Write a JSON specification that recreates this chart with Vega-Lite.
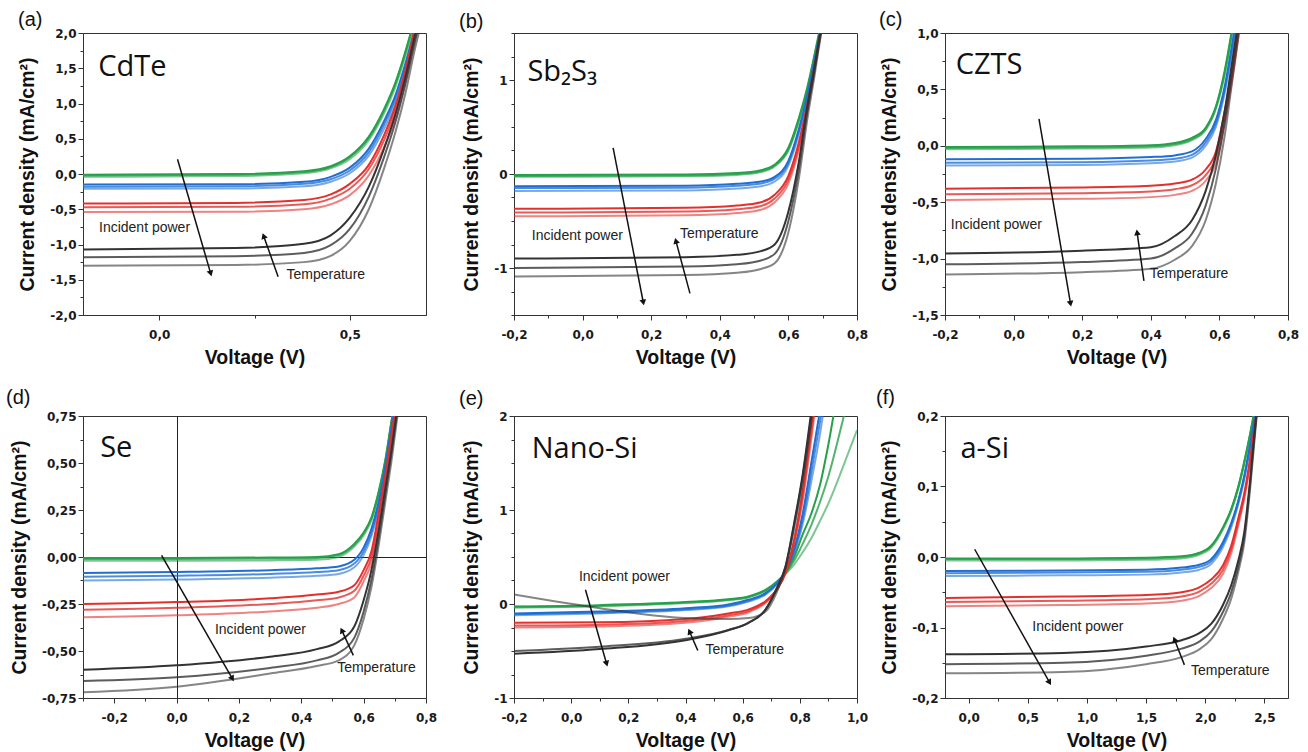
{
"$schema":"https://vega.github.io/schema/vega-lite/v6.json",
"background":"white",
"padding":{"left":5,"top":9,"right":5,"bottom":5},
"config":{
 "locale":{"number":{"decimal":",","thousands":".","grouping":[3],"currency":[""," €"],"minus":"-"}},
 "view":{"stroke":"#333","strokeWidth":1},
 "axis":{"labelFont":"DejaVu Sans","labelFontWeight":"bold","labelFontSize":12,"labelColor":"#1a1a1a","titleFont":"Liberation Sans","titleFontWeight":"bold","titleFontSize":19.5,"titleColor":"#111","domainColor":"#333","tickColor":"#333","grid":false,"labelOverlap":false,"labelFlush":false},
 "axisX":{"labelPadding":9,"titlePadding":8},
 "axisY":{"labelPadding":2,"titlePadding":12}
},
"datasets":{
"curves":[
{"p":"a","s":"g","t":1,"v":-0.2,"j":-0.01},{"p":"a","s":"g","t":1,"v":0.2,"j":0},{"p":"a","s":"g","t":1,"v":0.38,"j":0.04},{"p":"a","s":"g","t":1,"v":0.45,"j":0.11},{"p":"a","s":"g","t":1,"v":0.5,"j":0.25},{"p":"a","s":"g","t":1,"v":0.55,"j":0.53},{"p":"a","s":"g","t":1,"v":0.59,"j":0.92},{"p":"a","s":"g","t":1,"v":0.62,"j":1.3},{"p":"a","s":"g","t":1,"v":0.645,"j":1.72},{"p":"a","s":"g","t":1,"v":0.67,"j":2.2},{"p":"a","s":"g","t":1,"v":0.69,"j":2.6},
{"p":"a","s":"g","t":2,"v":-0.2,"j":-0.02},{"p":"a","s":"g","t":2,"v":0.2,"j":-0.01},{"p":"a","s":"g","t":2,"v":0.38,"j":0.03},{"p":"a","s":"g","t":2,"v":0.45,"j":0.1},{"p":"a","s":"g","t":2,"v":0.5,"j":0.24},{"p":"a","s":"g","t":2,"v":0.55,"j":0.51},{"p":"a","s":"g","t":2,"v":0.59,"j":0.9},{"p":"a","s":"g","t":2,"v":0.62,"j":1.28},{"p":"a","s":"g","t":2,"v":0.645,"j":1.7},{"p":"a","s":"g","t":2,"v":0.67,"j":2.18},{"p":"a","s":"g","t":2,"v":0.69,"j":2.58},
{"p":"a","s":"g","t":3,"v":-0.2,"j":-0.04},{"p":"a","s":"g","t":3,"v":0.2,"j":-0.03},{"p":"a","s":"g","t":3,"v":0.38,"j":0.01},{"p":"a","s":"g","t":3,"v":0.45,"j":0.08},{"p":"a","s":"g","t":3,"v":0.5,"j":0.21},{"p":"a","s":"g","t":3,"v":0.55,"j":0.48},{"p":"a","s":"g","t":3,"v":0.59,"j":0.86},{"p":"a","s":"g","t":3,"v":0.62,"j":1.24},{"p":"a","s":"g","t":3,"v":0.645,"j":1.66},{"p":"a","s":"g","t":3,"v":0.67,"j":2.14},{"p":"a","s":"g","t":3,"v":0.69,"j":2.55},
{"p":"a","s":"b","t":1,"v":-0.2,"j":-0.15},{"p":"a","s":"b","t":1,"v":0.2,"j":-0.145},{"p":"a","s":"b","t":1,"v":0.38,"j":-0.11},{"p":"a","s":"b","t":1,"v":0.45,"j":-0.04},{"p":"a","s":"b","t":1,"v":0.5,"j":0.09},{"p":"a","s":"b","t":1,"v":0.55,"j":0.36},{"p":"a","s":"b","t":1,"v":0.59,"j":0.75},{"p":"a","s":"b","t":1,"v":0.62,"j":1.12},{"p":"a","s":"b","t":1,"v":0.645,"j":1.55},{"p":"a","s":"b","t":1,"v":0.67,"j":2.05},{"p":"a","s":"b","t":1,"v":0.69,"j":2.45},
{"p":"a","s":"b","t":2,"v":-0.2,"j":-0.18},{"p":"a","s":"b","t":2,"v":0.2,"j":-0.175},{"p":"a","s":"b","t":2,"v":0.38,"j":-0.14},{"p":"a","s":"b","t":2,"v":0.45,"j":-0.075},{"p":"a","s":"b","t":2,"v":0.5,"j":0.05},{"p":"a","s":"b","t":2,"v":0.55,"j":0.31},{"p":"a","s":"b","t":2,"v":0.59,"j":0.7},{"p":"a","s":"b","t":2,"v":0.62,"j":1.07},{"p":"a","s":"b","t":2,"v":0.645,"j":1.5},{"p":"a","s":"b","t":2,"v":0.67,"j":2.0},{"p":"a","s":"b","t":2,"v":0.69,"j":2.4},
{"p":"a","s":"b","t":3,"v":-0.2,"j":-0.21},{"p":"a","s":"b","t":3,"v":0.2,"j":-0.205},{"p":"a","s":"b","t":3,"v":0.38,"j":-0.175},{"p":"a","s":"b","t":3,"v":0.45,"j":-0.11},{"p":"a","s":"b","t":3,"v":0.5,"j":0.01},{"p":"a","s":"b","t":3,"v":0.55,"j":0.26},{"p":"a","s":"b","t":3,"v":0.59,"j":0.64},{"p":"a","s":"b","t":3,"v":0.62,"j":1.0},{"p":"a","s":"b","t":3,"v":0.645,"j":1.43},{"p":"a","s":"b","t":3,"v":0.67,"j":1.93},{"p":"a","s":"b","t":3,"v":0.69,"j":2.35},
{"p":"a","s":"r","t":1,"v":-0.2,"j":-0.42},{"p":"a","s":"r","t":1,"v":0.2,"j":-0.41},{"p":"a","s":"r","t":1,"v":0.38,"j":-0.37},{"p":"a","s":"r","t":1,"v":0.45,"j":-0.29},{"p":"a","s":"r","t":1,"v":0.5,"j":-0.14},{"p":"a","s":"r","t":1,"v":0.55,"j":0.13},{"p":"a","s":"r","t":1,"v":0.59,"j":0.55},{"p":"a","s":"r","t":1,"v":0.62,"j":0.97},{"p":"a","s":"r","t":1,"v":0.645,"j":1.45},{"p":"a","s":"r","t":1,"v":0.67,"j":2.05},{"p":"a","s":"r","t":1,"v":0.69,"j":2.5},
{"p":"a","s":"r","t":2,"v":-0.2,"j":-0.47},{"p":"a","s":"r","t":2,"v":0.2,"j":-0.465},{"p":"a","s":"r","t":2,"v":0.38,"j":-0.43},{"p":"a","s":"r","t":2,"v":0.45,"j":-0.35},{"p":"a","s":"r","t":2,"v":0.5,"j":-0.21},{"p":"a","s":"r","t":2,"v":0.55,"j":0.07},{"p":"a","s":"r","t":2,"v":0.59,"j":0.48},{"p":"a","s":"r","t":2,"v":0.62,"j":0.9},{"p":"a","s":"r","t":2,"v":0.645,"j":1.38},{"p":"a","s":"r","t":2,"v":0.67,"j":1.98},{"p":"a","s":"r","t":2,"v":0.69,"j":2.45},
{"p":"a","s":"r","t":3,"v":-0.2,"j":-0.54},{"p":"a","s":"r","t":3,"v":0.2,"j":-0.535},{"p":"a","s":"r","t":3,"v":0.38,"j":-0.5},{"p":"a","s":"r","t":3,"v":0.45,"j":-0.43},{"p":"a","s":"r","t":3,"v":0.5,"j":-0.3},{"p":"a","s":"r","t":3,"v":0.55,"j":-0.02},{"p":"a","s":"r","t":3,"v":0.59,"j":0.38},{"p":"a","s":"r","t":3,"v":0.62,"j":0.8},{"p":"a","s":"r","t":3,"v":0.645,"j":1.28},{"p":"a","s":"r","t":3,"v":0.67,"j":1.88},{"p":"a","s":"r","t":3,"v":0.69,"j":2.35},
{"p":"a","s":"k","t":1,"v":-0.2,"j":-1.07},{"p":"a","s":"k","t":1,"v":0.2,"j":-1.05},{"p":"a","s":"k","t":1,"v":0.38,"j":-0.99},{"p":"a","s":"k","t":1,"v":0.45,"j":-0.87},{"p":"a","s":"k","t":1,"v":0.5,"j":-0.62},{"p":"a","s":"k","t":1,"v":0.55,"j":-0.18},{"p":"a","s":"k","t":1,"v":0.59,"j":0.36},{"p":"a","s":"k","t":1,"v":0.62,"j":0.85},{"p":"a","s":"k","t":1,"v":0.645,"j":1.35},{"p":"a","s":"k","t":1,"v":0.67,"j":1.95},{"p":"a","s":"k","t":1,"v":0.69,"j":2.4},
{"p":"a","s":"k","t":2,"v":-0.2,"j":-1.18},{"p":"a","s":"k","t":2,"v":0.2,"j":-1.165},{"p":"a","s":"k","t":2,"v":0.38,"j":-1.12},{"p":"a","s":"k","t":2,"v":0.45,"j":-1.01},{"p":"a","s":"k","t":2,"v":0.5,"j":-0.78},{"p":"a","s":"k","t":2,"v":0.55,"j":-0.32},{"p":"a","s":"k","t":2,"v":0.59,"j":0.24},{"p":"a","s":"k","t":2,"v":0.62,"j":0.74},{"p":"a","s":"k","t":2,"v":0.645,"j":1.26},{"p":"a","s":"k","t":2,"v":0.67,"j":1.86},{"p":"a","s":"k","t":2,"v":0.69,"j":2.3},
{"p":"a","s":"k","t":3,"v":-0.2,"j":-1.3},{"p":"a","s":"k","t":3,"v":0.2,"j":-1.29},{"p":"a","s":"k","t":3,"v":0.38,"j":-1.25},{"p":"a","s":"k","t":3,"v":0.45,"j":-1.16},{"p":"a","s":"k","t":3,"v":0.5,"j":-0.95},{"p":"a","s":"k","t":3,"v":0.55,"j":-0.5},{"p":"a","s":"k","t":3,"v":0.59,"j":0.08},{"p":"a","s":"k","t":3,"v":0.62,"j":0.6},{"p":"a","s":"k","t":3,"v":0.645,"j":1.12},{"p":"a","s":"k","t":3,"v":0.67,"j":1.75},{"p":"a","s":"k","t":3,"v":0.69,"j":2.2},

{"p":"b","s":"g","t":1,"v":-0.2,"j":-0.01},{"p":"b","s":"g","t":1,"v":0.3,"j":-0.005},{"p":"b","s":"g","t":1,"v":0.45,"j":0.01},{"p":"b","s":"g","t":1,"v":0.52,"j":0.04},{"p":"b","s":"g","t":1,"v":0.56,"j":0.1},{"p":"b","s":"g","t":1,"v":0.6,"j":0.28},{"p":"b","s":"g","t":1,"v":0.63,"j":0.59},{"p":"b","s":"g","t":1,"v":0.655,"j":0.92},{"p":"b","s":"g","t":1,"v":0.675,"j":1.25},{"p":"b","s":"g","t":1,"v":0.695,"j":1.6},{"p":"b","s":"g","t":1,"v":0.72,"j":2.0},
{"p":"b","s":"g","t":2,"v":-0.2,"j":-0.02},{"p":"b","s":"g","t":2,"v":0.3,"j":-0.015},{"p":"b","s":"g","t":2,"v":0.45,"j":0},{"p":"b","s":"g","t":2,"v":0.52,"j":0.03},{"p":"b","s":"g","t":2,"v":0.56,"j":0.09},{"p":"b","s":"g","t":2,"v":0.6,"j":0.26},{"p":"b","s":"g","t":2,"v":0.63,"j":0.57},{"p":"b","s":"g","t":2,"v":0.655,"j":0.9},{"p":"b","s":"g","t":2,"v":0.675,"j":1.23},{"p":"b","s":"g","t":2,"v":0.695,"j":1.58},{"p":"b","s":"g","t":2,"v":0.72,"j":1.98},
{"p":"b","s":"g","t":3,"v":-0.2,"j":-0.03},{"p":"b","s":"g","t":3,"v":0.3,"j":-0.025},{"p":"b","s":"g","t":3,"v":0.45,"j":-0.01},{"p":"b","s":"g","t":3,"v":0.52,"j":0.02},{"p":"b","s":"g","t":3,"v":0.56,"j":0.08},{"p":"b","s":"g","t":3,"v":0.6,"j":0.25},{"p":"b","s":"g","t":3,"v":0.63,"j":0.55},{"p":"b","s":"g","t":3,"v":0.655,"j":0.88},{"p":"b","s":"g","t":3,"v":0.675,"j":1.21},{"p":"b","s":"g","t":3,"v":0.695,"j":1.56},{"p":"b","s":"g","t":3,"v":0.72,"j":1.96},
{"p":"b","s":"b","t":1,"v":-0.2,"j":-0.13},{"p":"b","s":"b","t":1,"v":0.3,"j":-0.125},{"p":"b","s":"b","t":1,"v":0.45,"j":-0.105},{"p":"b","s":"b","t":1,"v":0.52,"j":-0.08},{"p":"b","s":"b","t":1,"v":0.56,"j":-0.03},{"p":"b","s":"b","t":1,"v":0.6,"j":0.14},{"p":"b","s":"b","t":1,"v":0.63,"j":0.47},{"p":"b","s":"b","t":1,"v":0.655,"j":0.84},{"p":"b","s":"b","t":1,"v":0.675,"j":1.19},{"p":"b","s":"b","t":1,"v":0.695,"j":1.56},{"p":"b","s":"b","t":1,"v":0.72,"j":1.97},
{"p":"b","s":"b","t":2,"v":-0.2,"j":-0.15},{"p":"b","s":"b","t":2,"v":0.3,"j":-0.145},{"p":"b","s":"b","t":2,"v":0.45,"j":-0.125},{"p":"b","s":"b","t":2,"v":0.52,"j":-0.1},{"p":"b","s":"b","t":2,"v":0.56,"j":-0.05},{"p":"b","s":"b","t":2,"v":0.6,"j":0.12},{"p":"b","s":"b","t":2,"v":0.63,"j":0.45},{"p":"b","s":"b","t":2,"v":0.655,"j":0.82},{"p":"b","s":"b","t":2,"v":0.675,"j":1.17},{"p":"b","s":"b","t":2,"v":0.695,"j":1.54},{"p":"b","s":"b","t":2,"v":0.72,"j":1.95},
{"p":"b","s":"b","t":3,"v":-0.2,"j":-0.18},{"p":"b","s":"b","t":3,"v":0.3,"j":-0.175},{"p":"b","s":"b","t":3,"v":0.45,"j":-0.155},{"p":"b","s":"b","t":3,"v":0.52,"j":-0.13},{"p":"b","s":"b","t":3,"v":0.56,"j":-0.08},{"p":"b","s":"b","t":3,"v":0.6,"j":0.09},{"p":"b","s":"b","t":3,"v":0.63,"j":0.42},{"p":"b","s":"b","t":3,"v":0.655,"j":0.79},{"p":"b","s":"b","t":3,"v":0.675,"j":1.15},{"p":"b","s":"b","t":3,"v":0.695,"j":1.52},{"p":"b","s":"b","t":3,"v":0.72,"j":1.93},
{"p":"b","s":"r","t":1,"v":-0.2,"j":-0.37},{"p":"b","s":"r","t":1,"v":0.3,"j":-0.36},{"p":"b","s":"r","t":1,"v":0.45,"j":-0.335},{"p":"b","s":"r","t":1,"v":0.52,"j":-0.3},{"p":"b","s":"r","t":1,"v":0.56,"j":-0.22},{"p":"b","s":"r","t":1,"v":0.6,"j":-0.02},{"p":"b","s":"r","t":1,"v":0.63,"j":0.33},{"p":"b","s":"r","t":1,"v":0.655,"j":0.74},{"p":"b","s":"r","t":1,"v":0.675,"j":1.12},{"p":"b","s":"r","t":1,"v":0.695,"j":1.53},{"p":"b","s":"r","t":1,"v":0.72,"j":1.95},
{"p":"b","s":"r","t":2,"v":-0.2,"j":-0.41},{"p":"b","s":"r","t":2,"v":0.3,"j":-0.4},{"p":"b","s":"r","t":2,"v":0.45,"j":-0.375},{"p":"b","s":"r","t":2,"v":0.52,"j":-0.34},{"p":"b","s":"r","t":2,"v":0.56,"j":-0.26},{"p":"b","s":"r","t":2,"v":0.6,"j":-0.06},{"p":"b","s":"r","t":2,"v":0.63,"j":0.29},{"p":"b","s":"r","t":2,"v":0.655,"j":0.71},{"p":"b","s":"r","t":2,"v":0.675,"j":1.1},{"p":"b","s":"r","t":2,"v":0.695,"j":1.51},{"p":"b","s":"r","t":2,"v":0.72,"j":1.93},
{"p":"b","s":"r","t":3,"v":-0.2,"j":-0.45},{"p":"b","s":"r","t":3,"v":0.3,"j":-0.44},{"p":"b","s":"r","t":3,"v":0.45,"j":-0.415},{"p":"b","s":"r","t":3,"v":0.52,"j":-0.38},{"p":"b","s":"r","t":3,"v":0.56,"j":-0.3},{"p":"b","s":"r","t":3,"v":0.6,"j":-0.1},{"p":"b","s":"r","t":3,"v":0.63,"j":0.25},{"p":"b","s":"r","t":3,"v":0.655,"j":0.68},{"p":"b","s":"r","t":3,"v":0.675,"j":1.08},{"p":"b","s":"r","t":3,"v":0.695,"j":1.49},{"p":"b","s":"r","t":3,"v":0.72,"j":1.91},
{"p":"b","s":"k","t":1,"v":-0.2,"j":-0.9},{"p":"b","s":"k","t":1,"v":0.3,"j":-0.885},{"p":"b","s":"k","t":1,"v":0.45,"j":-0.86},{"p":"b","s":"k","t":1,"v":0.52,"j":-0.82},{"p":"b","s":"k","t":1,"v":0.56,"j":-0.75},{"p":"b","s":"k","t":1,"v":0.6,"j":-0.4},{"p":"b","s":"k","t":1,"v":0.63,"j":0.12},{"p":"b","s":"k","t":1,"v":0.655,"j":0.72},{"p":"b","s":"k","t":1,"v":0.675,"j":1.12},{"p":"b","s":"k","t":1,"v":0.695,"j":1.56},{"p":"b","s":"k","t":1,"v":0.72,"j":2.1},
{"p":"b","s":"k","t":2,"v":-0.2,"j":-1.0},{"p":"b","s":"k","t":2,"v":0.3,"j":-0.985},{"p":"b","s":"k","t":2,"v":0.45,"j":-0.96},{"p":"b","s":"k","t":2,"v":0.52,"j":-0.92},{"p":"b","s":"k","t":2,"v":0.56,"j":-0.85},{"p":"b","s":"k","t":2,"v":0.6,"j":-0.5},{"p":"b","s":"k","t":2,"v":0.63,"j":0.04},{"p":"b","s":"k","t":2,"v":0.655,"j":0.66},{"p":"b","s":"k","t":2,"v":0.675,"j":1.08},{"p":"b","s":"k","t":2,"v":0.695,"j":1.53},{"p":"b","s":"k","t":2,"v":0.72,"j":2.08},
{"p":"b","s":"k","t":3,"v":-0.2,"j":-1.09},{"p":"b","s":"k","t":3,"v":0.3,"j":-1.075},{"p":"b","s":"k","t":3,"v":0.45,"j":-1.05},{"p":"b","s":"k","t":3,"v":0.52,"j":-1.01},{"p":"b","s":"k","t":3,"v":0.56,"j":-0.95},{"p":"b","s":"k","t":3,"v":0.6,"j":-0.62},{"p":"b","s":"k","t":3,"v":0.63,"j":-0.06},{"p":"b","s":"k","t":3,"v":0.655,"j":0.58},{"p":"b","s":"k","t":3,"v":0.675,"j":1.02},{"p":"b","s":"k","t":3,"v":0.695,"j":1.49},{"p":"b","s":"k","t":3,"v":0.72,"j":2.05},

{"p":"c","s":"g","t":1,"v":-0.2,"j":-0.01},{"p":"c","s":"g","t":1,"v":0.2,"j":-0.005},{"p":"c","s":"g","t":1,"v":0.4,"j":0.005},{"p":"c","s":"g","t":1,"v":0.47,"j":0.025},{"p":"c","s":"g","t":1,"v":0.52,"j":0.07},{"p":"c","s":"g","t":1,"v":0.56,"j":0.16},{"p":"c","s":"g","t":1,"v":0.59,"j":0.35},{"p":"c","s":"g","t":1,"v":0.615,"j":0.66},{"p":"c","s":"g","t":1,"v":0.635,"j":1.0},{"p":"c","s":"g","t":1,"v":0.655,"j":1.4},{"p":"c","s":"g","t":1,"v":0.68,"j":1.95},
{"p":"c","s":"g","t":2,"v":-0.2,"j":-0.02},{"p":"c","s":"g","t":2,"v":0.2,"j":-0.015},{"p":"c","s":"g","t":2,"v":0.4,"j":-0.005},{"p":"c","s":"g","t":2,"v":0.47,"j":0.015},{"p":"c","s":"g","t":2,"v":0.52,"j":0.06},{"p":"c","s":"g","t":2,"v":0.56,"j":0.15},{"p":"c","s":"g","t":2,"v":0.59,"j":0.34},{"p":"c","s":"g","t":2,"v":0.615,"j":0.64},{"p":"c","s":"g","t":2,"v":0.635,"j":0.98},{"p":"c","s":"g","t":2,"v":0.655,"j":1.38},{"p":"c","s":"g","t":2,"v":0.68,"j":1.93},
{"p":"c","s":"g","t":3,"v":-0.2,"j":-0.03},{"p":"c","s":"g","t":3,"v":0.2,"j":-0.025},{"p":"c","s":"g","t":3,"v":0.4,"j":-0.015},{"p":"c","s":"g","t":3,"v":0.47,"j":0.005},{"p":"c","s":"g","t":3,"v":0.52,"j":0.05},{"p":"c","s":"g","t":3,"v":0.56,"j":0.14},{"p":"c","s":"g","t":3,"v":0.59,"j":0.33},{"p":"c","s":"g","t":3,"v":0.615,"j":0.62},{"p":"c","s":"g","t":3,"v":0.635,"j":0.96},{"p":"c","s":"g","t":3,"v":0.655,"j":1.36},{"p":"c","s":"g","t":3,"v":0.68,"j":1.91},
{"p":"c","s":"b","t":1,"v":-0.2,"j":-0.12},{"p":"c","s":"b","t":1,"v":0.2,"j":-0.115},{"p":"c","s":"b","t":1,"v":0.4,"j":-0.1},{"p":"c","s":"b","t":1,"v":0.47,"j":-0.085},{"p":"c","s":"b","t":1,"v":0.52,"j":-0.05},{"p":"c","s":"b","t":1,"v":0.56,"j":0.06},{"p":"c","s":"b","t":1,"v":0.59,"j":0.23},{"p":"c","s":"b","t":1,"v":0.615,"j":0.52},{"p":"c","s":"b","t":1,"v":0.635,"j":0.86},{"p":"c","s":"b","t":1,"v":0.655,"j":1.25},{"p":"c","s":"b","t":1,"v":0.68,"j":1.8},
{"p":"c","s":"b","t":2,"v":-0.2,"j":-0.15},{"p":"c","s":"b","t":2,"v":0.2,"j":-0.145},{"p":"c","s":"b","t":2,"v":0.4,"j":-0.13},{"p":"c","s":"b","t":2,"v":0.47,"j":-0.115},{"p":"c","s":"b","t":2,"v":0.52,"j":-0.08},{"p":"c","s":"b","t":2,"v":0.56,"j":0.03},{"p":"c","s":"b","t":2,"v":0.59,"j":0.2},{"p":"c","s":"b","t":2,"v":0.615,"j":0.49},{"p":"c","s":"b","t":2,"v":0.635,"j":0.83},{"p":"c","s":"b","t":2,"v":0.655,"j":1.22},{"p":"c","s":"b","t":2,"v":0.68,"j":1.78},
{"p":"c","s":"b","t":3,"v":-0.2,"j":-0.175},{"p":"c","s":"b","t":3,"v":0.2,"j":-0.17},{"p":"c","s":"b","t":3,"v":0.4,"j":-0.155},{"p":"c","s":"b","t":3,"v":0.47,"j":-0.14},{"p":"c","s":"b","t":3,"v":0.52,"j":-0.105},{"p":"c","s":"b","t":3,"v":0.56,"j":0},{"p":"c","s":"b","t":3,"v":0.59,"j":0.17},{"p":"c","s":"b","t":3,"v":0.615,"j":0.46},{"p":"c","s":"b","t":3,"v":0.635,"j":0.8},{"p":"c","s":"b","t":3,"v":0.655,"j":1.19},{"p":"c","s":"b","t":3,"v":0.68,"j":1.75},
{"p":"c","s":"r","t":1,"v":-0.2,"j":-0.38},{"p":"c","s":"r","t":1,"v":0.2,"j":-0.37},{"p":"c","s":"r","t":1,"v":0.4,"j":-0.355},{"p":"c","s":"r","t":1,"v":0.47,"j":-0.335},{"p":"c","s":"r","t":1,"v":0.52,"j":-0.3},{"p":"c","s":"r","t":1,"v":0.56,"j":-0.21},{"p":"c","s":"r","t":1,"v":0.59,"j":-0.05},{"p":"c","s":"r","t":1,"v":0.615,"j":0.3},{"p":"c","s":"r","t":1,"v":0.635,"j":0.62},{"p":"c","s":"r","t":1,"v":0.655,"j":1.02},{"p":"c","s":"r","t":1,"v":0.68,"j":1.6},
{"p":"c","s":"r","t":2,"v":-0.2,"j":-0.43},{"p":"c","s":"r","t":2,"v":0.2,"j":-0.42},{"p":"c","s":"r","t":2,"v":0.4,"j":-0.405},{"p":"c","s":"r","t":2,"v":0.47,"j":-0.385},{"p":"c","s":"r","t":2,"v":0.52,"j":-0.35},{"p":"c","s":"r","t":2,"v":0.56,"j":-0.26},{"p":"c","s":"r","t":2,"v":0.59,"j":-0.1},{"p":"c","s":"r","t":2,"v":0.615,"j":0.25},{"p":"c","s":"r","t":2,"v":0.635,"j":0.58},{"p":"c","s":"r","t":2,"v":0.655,"j":0.99},{"p":"c","s":"r","t":2,"v":0.68,"j":1.58},
{"p":"c","s":"r","t":3,"v":-0.2,"j":-0.48},{"p":"c","s":"r","t":3,"v":0.2,"j":-0.47},{"p":"c","s":"r","t":3,"v":0.4,"j":-0.455},{"p":"c","s":"r","t":3,"v":0.47,"j":-0.435},{"p":"c","s":"r","t":3,"v":0.52,"j":-0.4},{"p":"c","s":"r","t":3,"v":0.56,"j":-0.31},{"p":"c","s":"r","t":3,"v":0.59,"j":-0.15},{"p":"c","s":"r","t":3,"v":0.615,"j":0.2},{"p":"c","s":"r","t":3,"v":0.635,"j":0.54},{"p":"c","s":"r","t":3,"v":0.655,"j":0.96},{"p":"c","s":"r","t":3,"v":0.68,"j":1.55},
{"p":"c","s":"k","t":1,"v":-0.2,"j":-0.955},{"p":"c","s":"k","t":1,"v":0.2,"j":-0.93},{"p":"c","s":"k","t":1,"v":0.4,"j":-0.9},{"p":"c","s":"k","t":1,"v":0.47,"j":-0.8},{"p":"c","s":"k","t":1,"v":0.52,"j":-0.66},{"p":"c","s":"k","t":1,"v":0.56,"j":-0.4},{"p":"c","s":"k","t":1,"v":0.59,"j":-0.08},{"p":"c","s":"k","t":1,"v":0.615,"j":0.3},{"p":"c","s":"k","t":1,"v":0.635,"j":0.7},{"p":"c","s":"k","t":1,"v":0.655,"j":1.1},{"p":"c","s":"k","t":1,"v":0.68,"j":1.6},
{"p":"c","s":"k","t":2,"v":-0.2,"j":-1.05},{"p":"c","s":"k","t":2,"v":0.2,"j":-1.03},{"p":"c","s":"k","t":2,"v":0.4,"j":-1.0},{"p":"c","s":"k","t":2,"v":0.47,"j":-0.91},{"p":"c","s":"k","t":2,"v":0.52,"j":-0.78},{"p":"c","s":"k","t":2,"v":0.56,"j":-0.53},{"p":"c","s":"k","t":2,"v":0.59,"j":-0.2},{"p":"c","s":"k","t":2,"v":0.615,"j":0.2},{"p":"c","s":"k","t":2,"v":0.635,"j":0.62},{"p":"c","s":"k","t":2,"v":0.655,"j":1.04},{"p":"c","s":"k","t":2,"v":0.68,"j":1.56},
{"p":"c","s":"k","t":3,"v":-0.2,"j":-1.14},{"p":"c","s":"k","t":3,"v":0.2,"j":-1.12},{"p":"c","s":"k","t":3,"v":0.4,"j":-1.09},{"p":"c","s":"k","t":3,"v":0.47,"j":-1.01},{"p":"c","s":"k","t":3,"v":0.52,"j":-0.89},{"p":"c","s":"k","t":3,"v":0.56,"j":-0.66},{"p":"c","s":"k","t":3,"v":0.59,"j":-0.33},{"p":"c","s":"k","t":3,"v":0.615,"j":0.08},{"p":"c","s":"k","t":3,"v":0.635,"j":0.52},{"p":"c","s":"k","t":3,"v":0.655,"j":0.96},{"p":"c","s":"k","t":3,"v":0.68,"j":1.5},

{"p":"d","s":"g","t":1,"v":-0.3,"j":-0.005},{"p":"d","s":"g","t":1,"v":0,"j":-0.005},{"p":"d","s":"g","t":1,"v":0.3,"j":-0.003},{"p":"d","s":"g","t":1,"v":0.45,"j":0},{"p":"d","s":"g","t":1,"v":0.52,"j":0.015},{"p":"d","s":"g","t":1,"v":0.57,"j":0.07},{"p":"d","s":"g","t":1,"v":0.6,"j":0.13},{"p":"d","s":"g","t":1,"v":0.625,"j":0.21},{"p":"d","s":"g","t":1,"v":0.65,"j":0.36},{"p":"d","s":"g","t":1,"v":0.67,"j":0.52},{"p":"d","s":"g","t":1,"v":0.69,"j":0.73},{"p":"d","s":"g","t":1,"v":0.71,"j":0.92},{"p":"d","s":"g","t":1,"v":0.73,"j":1.1},
{"p":"d","s":"g","t":2,"v":-0.3,"j":-0.01},{"p":"d","s":"g","t":2,"v":0,"j":-0.01},{"p":"d","s":"g","t":2,"v":0.3,"j":-0.008},{"p":"d","s":"g","t":2,"v":0.45,"j":-0.005},{"p":"d","s":"g","t":2,"v":0.52,"j":0.01},{"p":"d","s":"g","t":2,"v":0.57,"j":0.065},{"p":"d","s":"g","t":2,"v":0.6,"j":0.125},{"p":"d","s":"g","t":2,"v":0.625,"j":0.205},{"p":"d","s":"g","t":2,"v":0.65,"j":0.355},{"p":"d","s":"g","t":2,"v":0.67,"j":0.515},{"p":"d","s":"g","t":2,"v":0.69,"j":0.725},{"p":"d","s":"g","t":2,"v":0.71,"j":0.915},{"p":"d","s":"g","t":2,"v":0.73,"j":1.1},
{"p":"d","s":"g","t":3,"v":-0.3,"j":-0.02},{"p":"d","s":"g","t":3,"v":0,"j":-0.02},{"p":"d","s":"g","t":3,"v":0.3,"j":-0.018},{"p":"d","s":"g","t":3,"v":0.45,"j":-0.015},{"p":"d","s":"g","t":3,"v":0.52,"j":0},{"p":"d","s":"g","t":3,"v":0.57,"j":0.055},{"p":"d","s":"g","t":3,"v":0.6,"j":0.115},{"p":"d","s":"g","t":3,"v":0.625,"j":0.195},{"p":"d","s":"g","t":3,"v":0.65,"j":0.345},{"p":"d","s":"g","t":3,"v":0.67,"j":0.505},{"p":"d","s":"g","t":3,"v":0.69,"j":0.715},{"p":"d","s":"g","t":3,"v":0.71,"j":0.905},{"p":"d","s":"g","t":3,"v":0.73,"j":1.09},
{"p":"d","s":"b","t":1,"v":-0.3,"j":-0.085},{"p":"d","s":"b","t":1,"v":0,"j":-0.08},{"p":"d","s":"b","t":1,"v":0.3,"j":-0.07},{"p":"d","s":"b","t":1,"v":0.45,"j":-0.06},{"p":"d","s":"b","t":1,"v":0.52,"j":-0.05},{"p":"d","s":"b","t":1,"v":0.57,"j":-0.015},{"p":"d","s":"b","t":1,"v":0.6,"j":0.05},{"p":"d","s":"b","t":1,"v":0.625,"j":0.15},{"p":"d","s":"b","t":1,"v":0.65,"j":0.31},{"p":"d","s":"b","t":1,"v":0.67,"j":0.49},{"p":"d","s":"b","t":1,"v":0.69,"j":0.7},{"p":"d","s":"b","t":1,"v":0.71,"j":0.92},{"p":"d","s":"b","t":1,"v":0.73,"j":1.1},
{"p":"d","s":"b","t":2,"v":-0.3,"j":-0.105},{"p":"d","s":"b","t":2,"v":0,"j":-0.1},{"p":"d","s":"b","t":2,"v":0.3,"j":-0.09},{"p":"d","s":"b","t":2,"v":0.45,"j":-0.08},{"p":"d","s":"b","t":2,"v":0.52,"j":-0.07},{"p":"d","s":"b","t":2,"v":0.57,"j":-0.035},{"p":"d","s":"b","t":2,"v":0.6,"j":0.03},{"p":"d","s":"b","t":2,"v":0.625,"j":0.13},{"p":"d","s":"b","t":2,"v":0.65,"j":0.29},{"p":"d","s":"b","t":2,"v":0.67,"j":0.47},{"p":"d","s":"b","t":2,"v":0.69,"j":0.68},{"p":"d","s":"b","t":2,"v":0.71,"j":0.9},{"p":"d","s":"b","t":2,"v":0.73,"j":1.1},
{"p":"d","s":"b","t":3,"v":-0.3,"j":-0.125},{"p":"d","s":"b","t":3,"v":0,"j":-0.12},{"p":"d","s":"b","t":3,"v":0.3,"j":-0.11},{"p":"d","s":"b","t":3,"v":0.45,"j":-0.1},{"p":"d","s":"b","t":3,"v":0.52,"j":-0.09},{"p":"d","s":"b","t":3,"v":0.57,"j":-0.055},{"p":"d","s":"b","t":3,"v":0.6,"j":0.01},{"p":"d","s":"b","t":3,"v":0.625,"j":0.11},{"p":"d","s":"b","t":3,"v":0.65,"j":0.27},{"p":"d","s":"b","t":3,"v":0.67,"j":0.45},{"p":"d","s":"b","t":3,"v":0.69,"j":0.66},{"p":"d","s":"b","t":3,"v":0.71,"j":0.88},{"p":"d","s":"b","t":3,"v":0.73,"j":1.09},
{"p":"d","s":"r","t":1,"v":-0.3,"j":-0.25},{"p":"d","s":"r","t":1,"v":0,"j":-0.24},{"p":"d","s":"r","t":1,"v":0.3,"j":-0.22},{"p":"d","s":"r","t":1,"v":0.45,"j":-0.2},{"p":"d","s":"r","t":1,"v":0.52,"j":-0.185},{"p":"d","s":"r","t":1,"v":0.57,"j":-0.15},{"p":"d","s":"r","t":1,"v":0.6,"j":-0.07},{"p":"d","s":"r","t":1,"v":0.625,"j":0.03},{"p":"d","s":"r","t":1,"v":0.65,"j":0.25},{"p":"d","s":"r","t":1,"v":0.67,"j":0.44},{"p":"d","s":"r","t":1,"v":0.69,"j":0.66},{"p":"d","s":"r","t":1,"v":0.71,"j":0.88},{"p":"d","s":"r","t":1,"v":0.73,"j":1.08},
{"p":"d","s":"r","t":2,"v":-0.3,"j":-0.28},{"p":"d","s":"r","t":2,"v":0,"j":-0.27},{"p":"d","s":"r","t":2,"v":0.3,"j":-0.25},{"p":"d","s":"r","t":2,"v":0.45,"j":-0.23},{"p":"d","s":"r","t":2,"v":0.52,"j":-0.215},{"p":"d","s":"r","t":2,"v":0.57,"j":-0.18},{"p":"d","s":"r","t":2,"v":0.6,"j":-0.1},{"p":"d","s":"r","t":2,"v":0.625,"j":0},{"p":"d","s":"r","t":2,"v":0.65,"j":0.22},{"p":"d","s":"r","t":2,"v":0.67,"j":0.42},{"p":"d","s":"r","t":2,"v":0.69,"j":0.64},{"p":"d","s":"r","t":2,"v":0.71,"j":0.87},{"p":"d","s":"r","t":2,"v":0.73,"j":1.07},
{"p":"d","s":"r","t":3,"v":-0.3,"j":-0.32},{"p":"d","s":"r","t":3,"v":0,"j":-0.31},{"p":"d","s":"r","t":3,"v":0.3,"j":-0.29},{"p":"d","s":"r","t":3,"v":0.45,"j":-0.27},{"p":"d","s":"r","t":3,"v":0.52,"j":-0.25},{"p":"d","s":"r","t":3,"v":0.57,"j":-0.215},{"p":"d","s":"r","t":3,"v":0.6,"j":-0.13},{"p":"d","s":"r","t":3,"v":0.625,"j":-0.03},{"p":"d","s":"r","t":3,"v":0.65,"j":0.19},{"p":"d","s":"r","t":3,"v":0.67,"j":0.4},{"p":"d","s":"r","t":3,"v":0.69,"j":0.62},{"p":"d","s":"r","t":3,"v":0.71,"j":0.85},{"p":"d","s":"r","t":3,"v":0.73,"j":1.06},
{"p":"d","s":"k","t":1,"v":-0.3,"j":-0.6},{"p":"d","s":"k","t":1,"v":0,"j":-0.576},{"p":"d","s":"k","t":1,"v":0.3,"j":-0.53},{"p":"d","s":"k","t":1,"v":0.45,"j":-0.49},{"p":"d","s":"k","t":1,"v":0.52,"j":-0.45},{"p":"d","s":"k","t":1,"v":0.57,"j":-0.37},{"p":"d","s":"k","t":1,"v":0.6,"j":-0.23},{"p":"d","s":"k","t":1,"v":0.625,"j":-0.07},{"p":"d","s":"k","t":1,"v":0.65,"j":0.16},{"p":"d","s":"k","t":1,"v":0.67,"j":0.37},{"p":"d","s":"k","t":1,"v":0.69,"j":0.58},{"p":"d","s":"k","t":1,"v":0.71,"j":0.82},{"p":"d","s":"k","t":1,"v":0.73,"j":1.05},
{"p":"d","s":"k","t":2,"v":-0.3,"j":-0.66},{"p":"d","s":"k","t":2,"v":0,"j":-0.64},{"p":"d","s":"k","t":2,"v":0.3,"j":-0.59},{"p":"d","s":"k","t":2,"v":0.45,"j":-0.55},{"p":"d","s":"k","t":2,"v":0.52,"j":-0.51},{"p":"d","s":"k","t":2,"v":0.57,"j":-0.43},{"p":"d","s":"k","t":2,"v":0.6,"j":-0.29},{"p":"d","s":"k","t":2,"v":0.625,"j":-0.12},{"p":"d","s":"k","t":2,"v":0.65,"j":0.12},{"p":"d","s":"k","t":2,"v":0.67,"j":0.34},{"p":"d","s":"k","t":2,"v":0.69,"j":0.56},{"p":"d","s":"k","t":2,"v":0.71,"j":0.8},{"p":"d","s":"k","t":2,"v":0.73,"j":1.03},
{"p":"d","s":"k","t":3,"v":-0.3,"j":-0.72},{"p":"d","s":"k","t":3,"v":0,"j":-0.69},{"p":"d","s":"k","t":3,"v":0.3,"j":-0.62},{"p":"d","s":"k","t":3,"v":0.45,"j":-0.58},{"p":"d","s":"k","t":3,"v":0.52,"j":-0.55},{"p":"d","s":"k","t":3,"v":0.57,"j":-0.47},{"p":"d","s":"k","t":3,"v":0.6,"j":-0.33},{"p":"d","s":"k","t":3,"v":0.625,"j":-0.16},{"p":"d","s":"k","t":3,"v":0.65,"j":0.08},{"p":"d","s":"k","t":3,"v":0.67,"j":0.3},{"p":"d","s":"k","t":3,"v":0.69,"j":0.52},{"p":"d","s":"k","t":3,"v":0.71,"j":0.77},{"p":"d","s":"k","t":3,"v":0.73,"j":1.0},

{"p":"e","s":"g","t":1,"v":-0.2,"j":-0.026},{"p":"e","s":"g","t":1,"v":0.1,"j":-0.012},{"p":"e","s":"g","t":1,"v":0.4,"j":0.02},{"p":"e","s":"g","t":1,"v":0.55,"j":0.05},{"p":"e","s":"g","t":1,"v":0.62,"j":0.08},{"p":"e","s":"g","t":1,"v":0.68,"j":0.15},{"p":"e","s":"g","t":1,"v":0.72,"j":0.24},{"p":"e","s":"g","t":1,"v":0.75,"j":0.33},{"p":"e","s":"g","t":1,"v":0.78,"j":0.5},{"p":"e","s":"g","t":1,"v":0.81,"j":0.74},{"p":"e","s":"g","t":1,"v":0.84,"j":0.96},{"p":"e","s":"g","t":1,"v":0.87,"j":1.26},{"p":"e","s":"g","t":1,"v":0.9,"j":1.7},{"p":"e","s":"g","t":1,"v":0.95,"j":2.6},{"p":"e","s":"g","t":1,"v":1.0,"j":3.5},
{"p":"e","s":"g","t":2,"v":-0.2,"j":-0.03},{"p":"e","s":"g","t":2,"v":0.1,"j":-0.018},{"p":"e","s":"g","t":2,"v":0.4,"j":0.015},{"p":"e","s":"g","t":2,"v":0.55,"j":0.045},{"p":"e","s":"g","t":2,"v":0.62,"j":0.075},{"p":"e","s":"g","t":2,"v":0.68,"j":0.145},{"p":"e","s":"g","t":2,"v":0.72,"j":0.235},{"p":"e","s":"g","t":2,"v":0.75,"j":0.33},{"p":"e","s":"g","t":2,"v":0.78,"j":0.46},{"p":"e","s":"g","t":2,"v":0.81,"j":0.64},{"p":"e","s":"g","t":2,"v":0.84,"j":0.84},{"p":"e","s":"g","t":2,"v":0.87,"j":1.08},{"p":"e","s":"g","t":2,"v":0.9,"j":1.36},{"p":"e","s":"g","t":2,"v":0.95,"j":1.95},{"p":"e","s":"g","t":2,"v":1.0,"j":2.6},
{"p":"e","s":"g","t":3,"v":-0.2,"j":-0.04},{"p":"e","s":"g","t":3,"v":0.1,"j":-0.025},{"p":"e","s":"g","t":3,"v":0.4,"j":0.01},{"p":"e","s":"g","t":3,"v":0.55,"j":0.04},{"p":"e","s":"g","t":3,"v":0.62,"j":0.07},{"p":"e","s":"g","t":3,"v":0.68,"j":0.14},{"p":"e","s":"g","t":3,"v":0.72,"j":0.23},{"p":"e","s":"g","t":3,"v":0.75,"j":0.32},{"p":"e","s":"g","t":3,"v":0.78,"j":0.42},{"p":"e","s":"g","t":3,"v":0.81,"j":0.55},{"p":"e","s":"g","t":3,"v":0.84,"j":0.7},{"p":"e","s":"g","t":3,"v":0.87,"j":0.88},{"p":"e","s":"g","t":3,"v":0.9,"j":1.07},{"p":"e","s":"g","t":3,"v":0.95,"j":1.45},{"p":"e","s":"g","t":3,"v":1.0,"j":1.85},
{"p":"e","s":"b","t":1,"v":-0.2,"j":-0.1},{"p":"e","s":"b","t":1,"v":0.1,"j":-0.08},{"p":"e","s":"b","t":1,"v":0.4,"j":-0.045},{"p":"e","s":"b","t":1,"v":0.55,"j":-0.005},{"p":"e","s":"b","t":1,"v":0.62,"j":0.045},{"p":"e","s":"b","t":1,"v":0.68,"j":0.115},{"p":"e","s":"b","t":1,"v":0.72,"j":0.22},{"p":"e","s":"b","t":1,"v":0.75,"j":0.35},{"p":"e","s":"b","t":1,"v":0.78,"j":0.58},{"p":"e","s":"b","t":1,"v":0.81,"j":0.96},{"p":"e","s":"b","t":1,"v":0.84,"j":1.5},{"p":"e","s":"b","t":1,"v":0.87,"j":2.05},{"p":"e","s":"b","t":1,"v":0.9,"j":2.6},
{"p":"e","s":"b","t":2,"v":-0.2,"j":-0.11},{"p":"e","s":"b","t":2,"v":0.1,"j":-0.09},{"p":"e","s":"b","t":2,"v":0.4,"j":-0.055},{"p":"e","s":"b","t":2,"v":0.55,"j":-0.015},{"p":"e","s":"b","t":2,"v":0.62,"j":0.035},{"p":"e","s":"b","t":2,"v":0.68,"j":0.11},{"p":"e","s":"b","t":2,"v":0.72,"j":0.22},{"p":"e","s":"b","t":2,"v":0.75,"j":0.35},{"p":"e","s":"b","t":2,"v":0.78,"j":0.56},{"p":"e","s":"b","t":2,"v":0.81,"j":0.9},{"p":"e","s":"b","t":2,"v":0.84,"j":1.4},{"p":"e","s":"b","t":2,"v":0.87,"j":1.93},{"p":"e","s":"b","t":2,"v":0.9,"j":2.5},
{"p":"e","s":"b","t":3,"v":-0.2,"j":-0.12},{"p":"e","s":"b","t":3,"v":0.1,"j":-0.1},{"p":"e","s":"b","t":3,"v":0.4,"j":-0.065},{"p":"e","s":"b","t":3,"v":0.55,"j":-0.025},{"p":"e","s":"b","t":3,"v":0.62,"j":0.025},{"p":"e","s":"b","t":3,"v":0.68,"j":0.1},{"p":"e","s":"b","t":3,"v":0.72,"j":0.21},{"p":"e","s":"b","t":3,"v":0.75,"j":0.35},{"p":"e","s":"b","t":3,"v":0.78,"j":0.54},{"p":"e","s":"b","t":3,"v":0.81,"j":0.85},{"p":"e","s":"b","t":3,"v":0.84,"j":1.3},{"p":"e","s":"b","t":3,"v":0.87,"j":1.8},{"p":"e","s":"b","t":3,"v":0.9,"j":2.4},
{"p":"e","s":"r","t":1,"v":-0.2,"j":-0.2},{"p":"e","s":"r","t":1,"v":0.1,"j":-0.195},{"p":"e","s":"r","t":1,"v":0.4,"j":-0.16},{"p":"e","s":"r","t":1,"v":0.55,"j":-0.1},{"p":"e","s":"r","t":1,"v":0.62,"j":-0.06},{"p":"e","s":"r","t":1,"v":0.68,"j":0.03},{"p":"e","s":"r","t":1,"v":0.72,"j":0.16},{"p":"e","s":"r","t":1,"v":0.75,"j":0.33},{"p":"e","s":"r","t":1,"v":0.78,"j":0.68},{"p":"e","s":"r","t":1,"v":0.81,"j":1.2},{"p":"e","s":"r","t":1,"v":0.84,"j":1.9},{"p":"e","s":"r","t":1,"v":0.87,"j":2.6},
{"p":"e","s":"r","t":2,"v":-0.2,"j":-0.23},{"p":"e","s":"r","t":2,"v":0.1,"j":-0.22},{"p":"e","s":"r","t":2,"v":0.4,"j":-0.18},{"p":"e","s":"r","t":2,"v":0.55,"j":-0.12},{"p":"e","s":"r","t":2,"v":0.62,"j":-0.075},{"p":"e","s":"r","t":2,"v":0.68,"j":0.02},{"p":"e","s":"r","t":2,"v":0.72,"j":0.155},{"p":"e","s":"r","t":2,"v":0.75,"j":0.33},{"p":"e","s":"r","t":2,"v":0.78,"j":0.66},{"p":"e","s":"r","t":2,"v":0.81,"j":1.15},{"p":"e","s":"r","t":2,"v":0.84,"j":1.82},{"p":"e","s":"r","t":2,"v":0.87,"j":2.5},
{"p":"e","s":"r","t":3,"v":-0.2,"j":-0.25},{"p":"e","s":"r","t":3,"v":0.1,"j":-0.24},{"p":"e","s":"r","t":3,"v":0.4,"j":-0.2},{"p":"e","s":"r","t":3,"v":0.55,"j":-0.135},{"p":"e","s":"r","t":3,"v":0.62,"j":-0.09},{"p":"e","s":"r","t":3,"v":0.68,"j":0.01},{"p":"e","s":"r","t":3,"v":0.72,"j":0.15},{"p":"e","s":"r","t":3,"v":0.75,"j":0.33},{"p":"e","s":"r","t":3,"v":0.78,"j":0.64},{"p":"e","s":"r","t":3,"v":0.81,"j":1.1},{"p":"e","s":"r","t":3,"v":0.84,"j":1.75},{"p":"e","s":"r","t":3,"v":0.87,"j":2.45},
{"p":"e","s":"k","t":1,"v":-0.2,"j":-0.53},{"p":"e","s":"k","t":1,"v":0.1,"j":-0.48},{"p":"e","s":"k","t":1,"v":0.4,"j":-0.385},{"p":"e","s":"k","t":1,"v":0.55,"j":-0.28},{"p":"e","s":"k","t":1,"v":0.62,"j":-0.2},{"p":"e","s":"k","t":1,"v":0.68,"j":-0.06},{"p":"e","s":"k","t":1,"v":0.72,"j":0.17},{"p":"e","s":"k","t":1,"v":0.75,"j":0.4},{"p":"e","s":"k","t":1,"v":0.78,"j":0.86},{"p":"e","s":"k","t":1,"v":0.81,"j":1.38},{"p":"e","s":"k","t":1,"v":0.84,"j":2.05},{"p":"e","s":"k","t":1,"v":0.87,"j":2.8},
{"p":"e","s":"k","t":2,"v":-0.2,"j":-0.5},{"p":"e","s":"k","t":2,"v":0.1,"j":-0.455},{"p":"e","s":"k","t":2,"v":0.4,"j":-0.37},{"p":"e","s":"k","t":2,"v":0.55,"j":-0.275},{"p":"e","s":"k","t":2,"v":0.62,"j":-0.2},{"p":"e","s":"k","t":2,"v":0.68,"j":-0.06},{"p":"e","s":"k","t":2,"v":0.72,"j":0.17},{"p":"e","s":"k","t":2,"v":0.75,"j":0.4},{"p":"e","s":"k","t":2,"v":0.78,"j":0.84},{"p":"e","s":"k","t":2,"v":0.81,"j":1.35},{"p":"e","s":"k","t":2,"v":0.84,"j":2.0},{"p":"e","s":"k","t":2,"v":0.87,"j":2.75},
{"p":"e","s":"k","t":3,"v":-0.2,"j":0.1},{"p":"e","s":"k","t":3,"v":0.1,"j":-0.045},{"p":"e","s":"k","t":3,"v":0.4,"j":-0.15},{"p":"e","s":"k","t":3,"v":0.55,"j":-0.16},{"p":"e","s":"k","t":3,"v":0.62,"j":-0.15},{"p":"e","s":"k","t":3,"v":0.68,"j":-0.08},{"p":"e","s":"k","t":3,"v":0.72,"j":0.13},{"p":"e","s":"k","t":3,"v":0.75,"j":0.38},{"p":"e","s":"k","t":3,"v":0.78,"j":0.8},{"p":"e","s":"k","t":3,"v":0.81,"j":1.3},{"p":"e","s":"k","t":3,"v":0.84,"j":1.95},{"p":"e","s":"k","t":3,"v":0.87,"j":2.7},

{"p":"f","s":"g","t":1,"v":-0.2,"j":-0.002},{"p":"f","s":"g","t":1,"v":0.8,"j":-0.002},{"p":"f","s":"g","t":1,"v":1.5,"j":-0.001},{"p":"f","s":"g","t":1,"v":1.8,"j":0.001},{"p":"f","s":"g","t":1,"v":1.95,"j":0.006},{"p":"f","s":"g","t":1,"v":2.05,"j":0.016},{"p":"f","s":"g","t":1,"v":2.15,"j":0.042},{"p":"f","s":"g","t":1,"v":2.22,"j":0.068},{"p":"f","s":"g","t":1,"v":2.28,"j":0.1},{"p":"f","s":"g","t":1,"v":2.33,"j":0.135},{"p":"f","s":"g","t":1,"v":2.38,"j":0.175},{"p":"f","s":"g","t":1,"v":2.43,"j":0.22},{"p":"f","s":"g","t":1,"v":2.5,"j":0.29},
{"p":"f","s":"g","t":2,"v":-0.2,"j":-0.003},{"p":"f","s":"g","t":2,"v":0.8,"j":-0.003},{"p":"f","s":"g","t":2,"v":1.5,"j":-0.002},{"p":"f","s":"g","t":2,"v":1.8,"j":0},{"p":"f","s":"g","t":2,"v":1.95,"j":0.005},{"p":"f","s":"g","t":2,"v":2.05,"j":0.015},{"p":"f","s":"g","t":2,"v":2.15,"j":0.041},{"p":"f","s":"g","t":2,"v":2.22,"j":0.067},{"p":"f","s":"g","t":2,"v":2.28,"j":0.099},{"p":"f","s":"g","t":2,"v":2.33,"j":0.134},{"p":"f","s":"g","t":2,"v":2.38,"j":0.174},{"p":"f","s":"g","t":2,"v":2.43,"j":0.22},{"p":"f","s":"g","t":2,"v":2.5,"j":0.29},
{"p":"f","s":"g","t":3,"v":-0.2,"j":-0.005},{"p":"f","s":"g","t":3,"v":0.8,"j":-0.005},{"p":"f","s":"g","t":3,"v":1.5,"j":-0.004},{"p":"f","s":"g","t":3,"v":1.8,"j":-0.002},{"p":"f","s":"g","t":3,"v":1.95,"j":0.003},{"p":"f","s":"g","t":3,"v":2.05,"j":0.013},{"p":"f","s":"g","t":3,"v":2.15,"j":0.039},{"p":"f","s":"g","t":3,"v":2.22,"j":0.065},{"p":"f","s":"g","t":3,"v":2.28,"j":0.097},{"p":"f","s":"g","t":3,"v":2.33,"j":0.132},{"p":"f","s":"g","t":3,"v":2.38,"j":0.172},{"p":"f","s":"g","t":3,"v":2.43,"j":0.218},{"p":"f","s":"g","t":3,"v":2.5,"j":0.29},
{"p":"f","s":"b","t":1,"v":-0.2,"j":-0.02},{"p":"f","s":"b","t":1,"v":0.8,"j":-0.019},{"p":"f","s":"b","t":1,"v":1.5,"j":-0.018},{"p":"f","s":"b","t":1,"v":1.8,"j":-0.015},{"p":"f","s":"b","t":1,"v":1.95,"j":-0.011},{"p":"f","s":"b","t":1,"v":2.05,"j":-0.003},{"p":"f","s":"b","t":1,"v":2.15,"j":0.021},{"p":"f","s":"b","t":1,"v":2.22,"j":0.048},{"p":"f","s":"b","t":1,"v":2.28,"j":0.08},{"p":"f","s":"b","t":1,"v":2.33,"j":0.115},{"p":"f","s":"b","t":1,"v":2.38,"j":0.16},{"p":"f","s":"b","t":1,"v":2.43,"j":0.21},{"p":"f","s":"b","t":1,"v":2.5,"j":0.28},
{"p":"f","s":"b","t":2,"v":-0.2,"j":-0.023},{"p":"f","s":"b","t":2,"v":0.8,"j":-0.022},{"p":"f","s":"b","t":2,"v":1.5,"j":-0.021},{"p":"f","s":"b","t":2,"v":1.8,"j":-0.018},{"p":"f","s":"b","t":2,"v":1.95,"j":-0.014},{"p":"f","s":"b","t":2,"v":2.05,"j":-0.006},{"p":"f","s":"b","t":2,"v":2.15,"j":0.018},{"p":"f","s":"b","t":2,"v":2.22,"j":0.046},{"p":"f","s":"b","t":2,"v":2.28,"j":0.078},{"p":"f","s":"b","t":2,"v":2.33,"j":0.113},{"p":"f","s":"b","t":2,"v":2.38,"j":0.158},{"p":"f","s":"b","t":2,"v":2.43,"j":0.208},{"p":"f","s":"b","t":2,"v":2.5,"j":0.28},
{"p":"f","s":"b","t":3,"v":-0.2,"j":-0.027},{"p":"f","s":"b","t":3,"v":0.8,"j":-0.026},{"p":"f","s":"b","t":3,"v":1.5,"j":-0.025},{"p":"f","s":"b","t":3,"v":1.8,"j":-0.022},{"p":"f","s":"b","t":3,"v":1.95,"j":-0.018},{"p":"f","s":"b","t":3,"v":2.05,"j":-0.01},{"p":"f","s":"b","t":3,"v":2.15,"j":0.014},{"p":"f","s":"b","t":3,"v":2.22,"j":0.042},{"p":"f","s":"b","t":3,"v":2.28,"j":0.075},{"p":"f","s":"b","t":3,"v":2.33,"j":0.11},{"p":"f","s":"b","t":3,"v":2.38,"j":0.155},{"p":"f","s":"b","t":3,"v":2.43,"j":0.205},{"p":"f","s":"b","t":3,"v":2.5,"j":0.278},
{"p":"f","s":"r","t":1,"v":-0.2,"j":-0.058},{"p":"f","s":"r","t":1,"v":0.8,"j":-0.056},{"p":"f","s":"r","t":1,"v":1.5,"j":-0.054},{"p":"f","s":"r","t":1,"v":1.8,"j":-0.05},{"p":"f","s":"r","t":1,"v":1.95,"j":-0.043},{"p":"f","s":"r","t":1,"v":2.05,"j":-0.032},{"p":"f","s":"r","t":1,"v":2.15,"j":-0.012},{"p":"f","s":"r","t":1,"v":2.22,"j":0.016},{"p":"f","s":"r","t":1,"v":2.28,"j":0.055},{"p":"f","s":"r","t":1,"v":2.33,"j":0.09},{"p":"f","s":"r","t":1,"v":2.38,"j":0.14},{"p":"f","s":"r","t":1,"v":2.43,"j":0.2},{"p":"f","s":"r","t":1,"v":2.5,"j":0.28},
{"p":"f","s":"r","t":2,"v":-0.2,"j":-0.064},{"p":"f","s":"r","t":2,"v":0.8,"j":-0.062},{"p":"f","s":"r","t":2,"v":1.5,"j":-0.06},{"p":"f","s":"r","t":2,"v":1.8,"j":-0.056},{"p":"f","s":"r","t":2,"v":1.95,"j":-0.049},{"p":"f","s":"r","t":2,"v":2.05,"j":-0.038},{"p":"f","s":"r","t":2,"v":2.15,"j":-0.018},{"p":"f","s":"r","t":2,"v":2.22,"j":0.011},{"p":"f","s":"r","t":2,"v":2.28,"j":0.05},{"p":"f","s":"r","t":2,"v":2.33,"j":0.086},{"p":"f","s":"r","t":2,"v":2.38,"j":0.136},{"p":"f","s":"r","t":2,"v":2.43,"j":0.197},{"p":"f","s":"r","t":2,"v":2.5,"j":0.278},
{"p":"f","s":"r","t":3,"v":-0.2,"j":-0.07},{"p":"f","s":"r","t":3,"v":0.8,"j":-0.068},{"p":"f","s":"r","t":3,"v":1.5,"j":-0.066},{"p":"f","s":"r","t":3,"v":1.8,"j":-0.062},{"p":"f","s":"r","t":3,"v":1.95,"j":-0.055},{"p":"f","s":"r","t":3,"v":2.05,"j":-0.044},{"p":"f","s":"r","t":3,"v":2.15,"j":-0.024},{"p":"f","s":"r","t":3,"v":2.22,"j":0.005},{"p":"f","s":"r","t":3,"v":2.28,"j":0.045},{"p":"f","s":"r","t":3,"v":2.33,"j":0.082},{"p":"f","s":"r","t":3,"v":2.38,"j":0.132},{"p":"f","s":"r","t":3,"v":2.43,"j":0.194},{"p":"f","s":"r","t":3,"v":2.5,"j":0.275},
{"p":"f","s":"k","t":1,"v":-0.2,"j":-0.138},{"p":"f","s":"k","t":1,"v":0.8,"j":-0.136},{"p":"f","s":"k","t":1,"v":1.5,"j":-0.127},{"p":"f","s":"k","t":1,"v":1.8,"j":-0.118},{"p":"f","s":"k","t":1,"v":1.95,"j":-0.108},{"p":"f","s":"k","t":1,"v":2.05,"j":-0.095},{"p":"f","s":"k","t":1,"v":2.15,"j":-0.068},{"p":"f","s":"k","t":1,"v":2.22,"j":-0.04},{"p":"f","s":"k","t":1,"v":2.28,"j":-0.005},{"p":"f","s":"k","t":1,"v":2.33,"j":0.035},{"p":"f","s":"k","t":1,"v":2.38,"j":0.11},{"p":"f","s":"k","t":1,"v":2.43,"j":0.2},{"p":"f","s":"k","t":1,"v":2.5,"j":0.3},
{"p":"f","s":"k","t":2,"v":-0.2,"j":-0.152},{"p":"f","s":"k","t":2,"v":0.8,"j":-0.15},{"p":"f","s":"k","t":2,"v":1.5,"j":-0.14},{"p":"f","s":"k","t":2,"v":1.8,"j":-0.13},{"p":"f","s":"k","t":2,"v":1.95,"j":-0.12},{"p":"f","s":"k","t":2,"v":2.05,"j":-0.106},{"p":"f","s":"k","t":2,"v":2.15,"j":-0.078},{"p":"f","s":"k","t":2,"v":2.22,"j":-0.05},{"p":"f","s":"k","t":2,"v":2.28,"j":-0.013},{"p":"f","s":"k","t":2,"v":2.33,"j":0.028},{"p":"f","s":"k","t":2,"v":2.38,"j":0.104},{"p":"f","s":"k","t":2,"v":2.43,"j":0.196},{"p":"f","s":"k","t":2,"v":2.5,"j":0.3},
{"p":"f","s":"k","t":3,"v":-0.2,"j":-0.165},{"p":"f","s":"k","t":3,"v":0.8,"j":-0.163},{"p":"f","s":"k","t":3,"v":1.5,"j":-0.152},{"p":"f","s":"k","t":3,"v":1.8,"j":-0.142},{"p":"f","s":"k","t":3,"v":1.95,"j":-0.131},{"p":"f","s":"k","t":3,"v":2.05,"j":-0.117},{"p":"f","s":"k","t":3,"v":2.15,"j":-0.088},{"p":"f","s":"k","t":3,"v":2.22,"j":-0.059},{"p":"f","s":"k","t":3,"v":2.28,"j":-0.021},{"p":"f","s":"k","t":3,"v":2.33,"j":0.02},{"p":"f","s":"k","t":3,"v":2.38,"j":0.097},{"p":"f","s":"k","t":3,"v":2.43,"j":0.19},{"p":"f","s":"k","t":3,"v":2.5,"j":0.295}
],
"notes":[
{"p":"a","k":"mat","txt":"CdTe","v":-0.16,"j":1.52},{"p":"a","k":"note","txt":"Incident power","v":-0.158,"j":-0.77},{"p":"a","k":"note","txt":"Temperature","v":0.334,"j":-1.43},
{"p":"b","k":"mat","txt":"Sb₂S₃","v":-0.161,"j":1.08},{"p":"b","k":"note","txt":"Incident power","v":-0.148,"j":-0.655},{"p":"b","k":"note","txt":"Temperature","v":0.284,"j":-0.64},
{"p":"c","k":"mat","txt":"CZTS","v":-0.169,"j":0.713},{"p":"c","k":"note","txt":"Incident power","v":-0.183,"j":-0.703},{"p":"c","k":"note","txt":"Temperature","v":0.397,"j":-1.139},
{"p":"d","k":"mat","txt":"Se","v":-0.245,"j":0.58},{"p":"d","k":"note","txt":"Incident power","v":0.123,"j":-0.39},{"p":"d","k":"note","txt":"Temperature","v":0.515,"j":-0.59},
{"p":"e","k":"mat","txt":"Nano-Si","v":-0.138,"j":1.646},{"p":"e","k":"note","txt":"Incident power","v":0.027,"j":0.282},{"p":"e","k":"note","txt":"Temperature","v":0.47,"j":-0.494},
{"p":"f","k":"mat","txt":"a-Si","v":-0.07,"j":0.1525},{"p":"f","k":"note","txt":"Incident power","v":0.538,"j":-0.099},{"p":"f","k":"note","txt":"Temperature","v":1.88,"j":-0.161}
],
"arrows":[
{"p":"a","k":"inc","v0":0.048,"j0":0.21,"v":0.135,"j":-1.41},{"p":"a","k":"tmp","v0":0.312,"j0":-1.456,"v":0.274,"j":-0.879},
{"p":"b","k":"inc","v0":0.089,"j0":0.278,"v":0.177,"j":-1.367},{"p":"b","k":"tmp","v0":0.313,"j0":-1.27,"v":0.272,"j":-0.712},
{"p":"c","k":"inc","v0":0.074,"j0":0.239,"v":0.166,"j":-1.4},{"p":"c","k":"tmp","v0":0.38,"j0":-1.198,"v":0.36,"j":-0.768},
{"p":"d","k":"inc","v0":-0.048,"j0":0.009,"v":0.179,"j":-0.647},{"p":"d","k":"tmp","v0":0.567,"j0":-0.523,"v":0.53,"j":-0.39},
{"p":"e","k":"inc","v0":0.05,"j0":0.151,"v":0.124,"j":-0.635},{"p":"e","k":"tmp","v0":0.443,"j0":-0.494,"v":0.414,"j":-0.292},
{"p":"f","k":"inc","v0":0.051,"j0":0.011,"v":0.684,"j":-0.178},{"p":"f","k":"tmp","v0":1.824,"j0":-0.153,"v":1.74,"j":-0.117}
]
},
"columns":3,
"spacing":{"row":101,"column":88},
"bounds":"flush",
"concat":[
{
 "width":343,"height":282,
 "title":{"text":"(a)","anchor":"start","frame":"group","dx":-65,"offset":-19,"fontSize":20,"font":"Liberation Sans","fontWeight":"normal","color":"#111","baseline":"alphabetic"},
 "encoding":{
  "x":{"field":"v","type":"quantitative","scale":{"domain":[-0.2,0.7],"nice":false,"zero":false},"axis":{"title":"Voltage (V)","values":[0,0.25,0.5],"format":".1f","labelExpr":"abs(datum.value*2-round(datum.value*2))<0.001 ? datum.label : ''","tickSize":{"condition":{"test":"abs(datum.value*2-round(datum.value*2))<0.001","value":5},"value":3}}},
  "y":{"field":"j","type":"quantitative","scale":{"domain":[-2,2],"nice":false,"zero":false},"axis":{"title":"Current density (mA/cm²)","values":[-2,-1.75,-1.5,-1.25,-1,-0.75,-0.5,-0.25,0,0.25,0.5,0.75,1,1.25,1.5,1.75,2],"format":".1f","labelExpr":"abs(datum.value*2-round(datum.value*2))<0.001 ? datum.label : ''","tickSize":{"condition":{"test":"abs(datum.value*2-round(datum.value*2))<0.001","value":5},"value":3}}}
 },
 "layer":[
  {"data":{"name":"curves"},"transform":[{"filter":"datum.p==='a'"}],"mark":{"type":"line","clip":true,"strokeWidth":2,"interpolate":"monotone"},"encoding":{"color":{"field":"s","type":"nominal","scale":{"domain":["k","r","b","g"],"range":["#333333","#e3302d","#1f6fd3","#27a04b"]},"legend":null},"opacity":{"field":"t","type":"ordinal","scale":{"domain":[1,2,3],"range":[1,0.6,0.28]},"legend":null}}},
  {"data":{"name":"notes"},"transform":[{"filter":"datum.p==='a' && datum.k==='mat'"}],"mark":{"type":"text","align":"left","baseline":"middle","font":"Open Sans","fontSize":29,"color":"#111"},"encoding":{"text":{"field":"txt"}}},
  {"data":{"name":"notes"},"transform":[{"filter":"datum.p==='a' && datum.k==='note'"}],"mark":{"type":"text","align":"left","baseline":"middle","font":"Liberation Sans","fontSize":14,"color":"#222"},"encoding":{"text":{"field":"txt"}}},
  {"data":{"name":"arrows"},"transform":[{"filter":"datum.p==='a'"}],"mark":{"type":"rule","color":"#111","strokeWidth":1.5},"encoding":{"x2":{"field":"v0"},"y2":{"field":"j0"}}},
  {"data":{"name":"arrows"},"transform":[{"filter":"datum.p==='a' && datum.k==='inc'"}],"mark":{"type":"point","shape":"triangle-down","angle":-16,"filled":true,"color":"#111","size":45,"opacity":1},"encoding":{}},
  {"data":{"name":"arrows"},"transform":[{"filter":"datum.p==='a' && datum.k==='tmp'"}],"mark":{"type":"point","shape":"triangle-up","angle":-20,"filled":true,"color":"#111","size":45,"opacity":1},"encoding":{}}
 ]
},
{
 "width":343,"height":282,
 "title":{"text":"(b)","anchor":"start","frame":"group","dx":-55,"offset":-21,"fontSize":20,"font":"Liberation Sans","fontWeight":"normal","color":"#111","baseline":"alphabetic"},
 "encoding":{
  "x":{"field":"v","type":"quantitative","scale":{"domain":[-0.2,0.8],"nice":false,"zero":false},"axis":{"title":"Voltage (V)","values":[-0.2,-0.1,0,0.1,0.2,0.3,0.4,0.5,0.6,0.7,0.8],"format":".1f","labelExpr":"abs(datum.value*5-round(datum.value*5))<0.001 ? datum.label : ''","tickSize":{"condition":{"test":"abs(datum.value*5-round(datum.value*5))<0.001","value":5},"value":3}}},
  "y":{"field":"j","type":"quantitative","scale":{"domain":[-1.5,1.5],"nice":false,"zero":false},"axis":{"title":"Current density (mA/cm²)","values":[-1.5,-1.25,-1,-0.75,-0.5,-0.25,0,0.25,0.5,0.75,1,1.25,1.5],"format":".1f","labelExpr":"abs(datum.value-round(datum.value))<0.001 ? ''+round(datum.value) : ''","tickSize":{"condition":{"test":"abs(datum.value-round(datum.value))<0.001","value":5},"value":3}}}
 },
 "layer":[
  {"data":{"name":"curves"},"transform":[{"filter":"datum.p==='b'"}],"mark":{"type":"line","clip":true,"strokeWidth":2,"interpolate":"monotone"},"encoding":{"color":{"field":"s","type":"nominal","scale":{"domain":["k","r","b","g"],"range":["#333333","#e3302d","#1f6fd3","#27a04b"]},"legend":null},"opacity":{"field":"t","type":"ordinal","scale":{"domain":[1,2,3],"range":[1,0.6,0.28]},"legend":null}}},
  {"data":{"name":"notes"},"transform":[{"filter":"datum.p==='b' && datum.k==='mat'"}],"mark":{"type":"text","align":"left","baseline":"middle","font":"Open Sans","fontSize":29,"color":"#111"},"encoding":{"text":{"field":"txt"}}},
  {"data":{"name":"notes"},"transform":[{"filter":"datum.p==='b' && datum.k==='note'"}],"mark":{"type":"text","align":"left","baseline":"middle","font":"Liberation Sans","fontSize":14,"color":"#222"},"encoding":{"text":{"field":"txt"}}},
  {"data":{"name":"arrows"},"transform":[{"filter":"datum.p==='b'"}],"mark":{"type":"rule","color":"#111","strokeWidth":1.5},"encoding":{"x2":{"field":"v0"},"y2":{"field":"j0"}}},
  {"data":{"name":"arrows"},"transform":[{"filter":"datum.p==='b' && datum.k==='inc'"}],"mark":{"type":"point","shape":"triangle-down","angle":-11,"filled":true,"color":"#111","size":45,"opacity":1},"encoding":{}},
  {"data":{"name":"arrows"},"transform":[{"filter":"datum.p==='b' && datum.k==='tmp'"}],"mark":{"type":"point","shape":"triangle-up","angle":-15,"filled":true,"color":"#111","size":45,"opacity":1},"encoding":{}}
 ]
},
{
 "width":343,"height":282,
 "title":{"text":"(c)","anchor":"start","frame":"group","dx":-66,"offset":-19,"fontSize":20,"font":"Liberation Sans","fontWeight":"normal","color":"#111","baseline":"alphabetic"},
 "encoding":{
  "x":{"field":"v","type":"quantitative","scale":{"domain":[-0.2,0.8],"nice":false,"zero":false},"axis":{"title":"Voltage (V)","values":[-0.2,-0.1,0,0.1,0.2,0.3,0.4,0.5,0.6,0.7,0.8],"format":".1f","labelExpr":"abs(datum.value*5-round(datum.value*5))<0.001 ? datum.label : ''","tickSize":{"condition":{"test":"abs(datum.value*5-round(datum.value*5))<0.001","value":5},"value":3}}},
  "y":{"field":"j","type":"quantitative","scale":{"domain":[-1.5,1.0],"nice":false,"zero":false},"axis":{"title":"Current density (mA/cm²)","values":[-1.5,-1.25,-1,-0.75,-0.5,-0.25,0,0.25,0.5,0.75,1],"format":".1f","labelExpr":"abs(datum.value*2-round(datum.value*2))<0.001 ? datum.label : ''","tickSize":{"condition":{"test":"abs(datum.value*2-round(datum.value*2))<0.001","value":5},"value":3}}}
 },
 "layer":[
  {"data":{"name":"curves"},"transform":[{"filter":"datum.p==='c'"}],"mark":{"type":"line","clip":true,"strokeWidth":2,"interpolate":"monotone"},"encoding":{"color":{"field":"s","type":"nominal","scale":{"domain":["k","r","b","g"],"range":["#333333","#e3302d","#1f6fd3","#27a04b"]},"legend":null},"opacity":{"field":"t","type":"ordinal","scale":{"domain":[1,2,3],"range":[1,0.6,0.28]},"legend":null}}},
  {"data":{"name":"notes"},"transform":[{"filter":"datum.p==='c' && datum.k==='mat'"}],"mark":{"type":"text","align":"left","baseline":"middle","font":"Open Sans","fontSize":29,"color":"#111"},"encoding":{"text":{"field":"txt"}}},
  {"data":{"name":"notes"},"transform":[{"filter":"datum.p==='c' && datum.k==='note'"}],"mark":{"type":"text","align":"left","baseline":"middle","font":"Liberation Sans","fontSize":14,"color":"#222"},"encoding":{"text":{"field":"txt"}}},
  {"data":{"name":"arrows"},"transform":[{"filter":"datum.p==='c'"}],"mark":{"type":"rule","color":"#111","strokeWidth":1.5},"encoding":{"x2":{"field":"v0"},"y2":{"field":"j0"}}},
  {"data":{"name":"arrows"},"transform":[{"filter":"datum.p==='c' && datum.k==='inc'"}],"mark":{"type":"point","shape":"triangle-down","angle":-10,"filled":true,"color":"#111","size":45,"opacity":1},"encoding":{}},
  {"data":{"name":"arrows"},"transform":[{"filter":"datum.p==='c' && datum.k==='tmp'"}],"mark":{"type":"point","shape":"triangle-up","angle":-8,"filled":true,"color":"#111","size":45,"opacity":1},"encoding":{}}
 ]
},
{
 "width":343,"height":282,
 "title":{"text":"(d)","anchor":"start","frame":"group","dx":-77,"offset":-14,"fontSize":20,"font":"Liberation Sans","fontWeight":"normal","color":"#111","baseline":"alphabetic"},
 "encoding":{
  "x":{"field":"v","type":"quantitative","scale":{"domain":[-0.3,0.8],"nice":false,"zero":false},"axis":{"title":"Voltage (V)","values":[-0.3,-0.2,-0.1,0,0.1,0.2,0.3,0.4,0.5,0.6,0.7,0.8],"format":".1f","labelExpr":"abs(datum.value*5-round(datum.value*5))<0.001 ? datum.label : ''","tickSize":{"condition":{"test":"abs(datum.value*5-round(datum.value*5))<0.001","value":5},"value":3},"grid":true,"gridColor":"#222","gridWidth":1,"gridOpacity":{"condition":{"test":"datum.value === 0","value":1},"value":0}}},
  "y":{"field":"j","type":"quantitative","scale":{"domain":[-0.75,0.75],"nice":false,"zero":false},"axis":{"title":"Current density (mA/cm²)","values":[-0.75,-0.625,-0.5,-0.375,-0.25,-0.125,0,0.125,0.25,0.375,0.5,0.625,0.75],"format":".2f","labelExpr":"abs(datum.value*4-round(datum.value*4))<0.001 ? datum.label : ''","tickSize":{"condition":{"test":"abs(datum.value*4-round(datum.value*4))<0.001","value":5},"value":3},"grid":true,"gridColor":"#222","gridWidth":1,"gridOpacity":{"condition":{"test":"datum.value === 0","value":1},"value":0}}}
 },
 "layer":[
  {"data":{"name":"curves"},"transform":[{"filter":"datum.p==='d'"}],"mark":{"type":"line","clip":true,"strokeWidth":2,"interpolate":"monotone"},"encoding":{"color":{"field":"s","type":"nominal","scale":{"domain":["k","r","b","g"],"range":["#333333","#e3302d","#1f6fd3","#27a04b"]},"legend":null},"opacity":{"field":"t","type":"ordinal","scale":{"domain":[1,2,3],"range":[1,0.6,0.28]},"legend":null}}},
  {"data":{"name":"notes"},"transform":[{"filter":"datum.p==='d' && datum.k==='mat'"}],"mark":{"type":"text","align":"left","baseline":"middle","font":"Open Sans","fontSize":29,"color":"#111"},"encoding":{"text":{"field":"txt"}}},
  {"data":{"name":"notes"},"transform":[{"filter":"datum.p==='d' && datum.k==='note'"}],"mark":{"type":"text","align":"left","baseline":"middle","font":"Liberation Sans","fontSize":14,"color":"#222"},"encoding":{"text":{"field":"txt"}}},
  {"data":{"name":"arrows"},"transform":[{"filter":"datum.p==='d'"}],"mark":{"type":"rule","color":"#111","strokeWidth":1.5},"encoding":{"x2":{"field":"v0"},"y2":{"field":"j0"}}},
  {"data":{"name":"arrows"},"transform":[{"filter":"datum.p==='d' && datum.k==='inc'"}],"mark":{"type":"point","shape":"triangle-down","angle":-30,"filled":true,"color":"#111","size":45,"opacity":1},"encoding":{}},
  {"data":{"name":"arrows"},"transform":[{"filter":"datum.p==='d' && datum.k==='tmp'"}],"mark":{"type":"point","shape":"triangle-up","angle":-25,"filled":true,"color":"#111","size":45,"opacity":1},"encoding":{}}
 ]
},
{
 "width":343,"height":282,
 "title":{"text":"(e)","anchor":"start","frame":"group","dx":-55,"offset":-15,"fontSize":20,"font":"Liberation Sans","fontWeight":"normal","color":"#111","baseline":"alphabetic"},
 "encoding":{
  "x":{"field":"v","type":"quantitative","scale":{"domain":[-0.2,1.0],"nice":false,"zero":false},"axis":{"title":"Voltage (V)","values":[-0.2,-0.1,0,0.1,0.2,0.3,0.4,0.5,0.6,0.7,0.8,0.9,1.0],"format":".1f","labelExpr":"abs(datum.value*5-round(datum.value*5))<0.001 ? datum.label : ''","tickSize":{"condition":{"test":"abs(datum.value*5-round(datum.value*5))<0.001","value":5},"value":3}}},
  "y":{"field":"j","type":"quantitative","scale":{"domain":[-1,2],"nice":false,"zero":false},"axis":{"title":"Current density (mA/cm²)","values":[-1,-0.75,-0.5,-0.25,0,0.25,0.5,0.75,1,1.25,1.5,1.75,2],"format":".1f","labelExpr":"abs(datum.value-round(datum.value))<0.001 ? ''+round(datum.value) : ''","tickSize":{"condition":{"test":"abs(datum.value-round(datum.value))<0.001","value":5},"value":3}}}
 },
 "layer":[
  {"data":{"name":"curves"},"transform":[{"filter":"datum.p==='e'"}],"mark":{"type":"line","clip":true,"strokeWidth":2,"interpolate":"monotone"},"encoding":{"color":{"field":"s","type":"nominal","scale":{"domain":["k","r","b","g"],"range":["#333333","#e3302d","#1f6fd3","#27a04b"]},"legend":null},"opacity":{"field":"t","type":"ordinal","scale":{"domain":[1,2,3],"range":[1,0.6,0.28]},"legend":null}}},
  {"data":{"name":"notes"},"transform":[{"filter":"datum.p==='e' && datum.k==='mat'"}],"mark":{"type":"text","align":"left","baseline":"middle","font":"Open Sans","fontSize":29,"color":"#111"},"encoding":{"text":{"field":"txt"}}},
  {"data":{"name":"notes"},"transform":[{"filter":"datum.p==='e' && datum.k==='note'"}],"mark":{"type":"text","align":"left","baseline":"middle","font":"Liberation Sans","fontSize":14,"color":"#222"},"encoding":{"text":{"field":"txt"}}},
  {"data":{"name":"arrows"},"transform":[{"filter":"datum.p==='e'"}],"mark":{"type":"rule","color":"#111","strokeWidth":1.5},"encoding":{"x2":{"field":"v0"},"y2":{"field":"j0"}}},
  {"data":{"name":"arrows"},"transform":[{"filter":"datum.p==='e' && datum.k==='inc'"}],"mark":{"type":"point","shape":"triangle-down","angle":-16,"filled":true,"color":"#111","size":45,"opacity":1},"encoding":{}},
  {"data":{"name":"arrows"},"transform":[{"filter":"datum.p==='e' && datum.k==='tmp'"}],"mark":{"type":"point","shape":"triangle-up","angle":-24,"filled":true,"color":"#111","size":45,"opacity":1},"encoding":{}}
 ]
},
{
 "width":343,"height":282,
 "title":{"text":"(f)","anchor":"start","frame":"group","dx":-69,"offset":-14,"fontSize":20,"font":"Liberation Sans","fontWeight":"normal","color":"#111","baseline":"alphabetic"},
 "encoding":{
  "x":{"field":"v","type":"quantitative","scale":{"domain":[-0.2,2.7],"nice":false,"zero":false},"axis":{"title":"Voltage (V)","values":[0,0.25,0.5,0.75,1,1.25,1.5,1.75,2,2.25,2.5],"format":".1f","labelExpr":"abs(datum.value*2-round(datum.value*2))<0.001 ? datum.label : ''","tickSize":{"condition":{"test":"abs(datum.value*2-round(datum.value*2))<0.001","value":5},"value":3}}},
  "y":{"field":"j","type":"quantitative","scale":{"domain":[-0.2,0.2],"nice":false,"zero":false},"axis":{"title":"Current density (mA/cm²)","values":[-0.2,-0.15,-0.1,-0.05,0,0.05,0.1,0.15,0.2],"format":".1f","labelExpr":"abs(datum.value*10-round(datum.value*10))<0.001 ? datum.label : ''","tickSize":{"condition":{"test":"abs(datum.value*10-round(datum.value*10))<0.001","value":5},"value":3}}}
 },
 "layer":[
  {"data":{"name":"curves"},"transform":[{"filter":"datum.p==='f'"}],"mark":{"type":"line","clip":true,"strokeWidth":2,"interpolate":"monotone"},"encoding":{"color":{"field":"s","type":"nominal","scale":{"domain":["k","r","b","g"],"range":["#333333","#e3302d","#1f6fd3","#27a04b"]},"legend":null},"opacity":{"field":"t","type":"ordinal","scale":{"domain":[1,2,3],"range":[1,0.6,0.28]},"legend":null}}},
  {"data":{"name":"notes"},"transform":[{"filter":"datum.p==='f' && datum.k==='mat'"}],"mark":{"type":"text","align":"left","baseline":"middle","font":"Open Sans","fontSize":29,"color":"#111"},"encoding":{"text":{"field":"txt"}}},
  {"data":{"name":"notes"},"transform":[{"filter":"datum.p==='f' && datum.k==='note'"}],"mark":{"type":"text","align":"left","baseline":"middle","font":"Liberation Sans","fontSize":14,"color":"#222"},"encoding":{"text":{"field":"txt"}}},
  {"data":{"name":"arrows"},"transform":[{"filter":"datum.p==='f'"}],"mark":{"type":"rule","color":"#111","strokeWidth":1.5},"encoding":{"x2":{"field":"v0"},"y2":{"field":"j0"}}},
  {"data":{"name":"arrows"},"transform":[{"filter":"datum.p==='f' && datum.k==='inc'"}],"mark":{"type":"point","shape":"triangle-down","angle":-30,"filled":true,"color":"#111","size":45,"opacity":1},"encoding":{}},
  {"data":{"name":"arrows"},"transform":[{"filter":"datum.p==='f' && datum.k==='tmp'"}],"mark":{"type":"point","shape":"triangle-up","angle":-22,"filled":true,"color":"#111","size":45,"opacity":1},"encoding":{}}
 ]
}
]
}
